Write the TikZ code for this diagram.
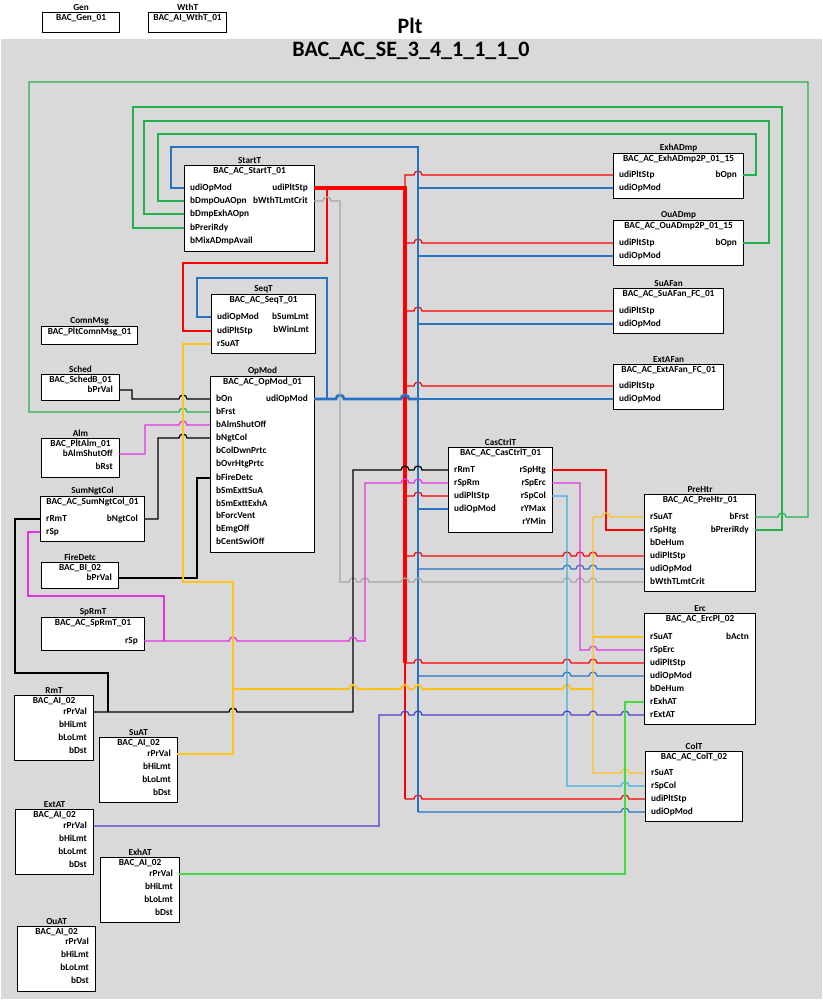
\documentclass[tikz,border=0pt]{standalone}
\usepackage{fontspec}
\setmainfont{Carlito}
\usepackage{tikz}
\usetikzlibrary{positioning,calc}
\definecolor{bggray}{HTML}{D9D9D9}
\definecolor{wred}{HTML}{FF0000}
\definecolor{wblue}{HTML}{2673C4}
\definecolor{wgreen}{HTML}{23B04E}
\definecolor{wgray}{HTML}{A6A6A6}
\definecolor{wmag}{HTML}{E632E6}
\definecolor{wyel}{HTML}{FFC21A}
\definecolor{wcyan}{HTML}{3CB0E6}
\definecolor{wind}{HTML}{4B3CD2}
\definecolor{wlime}{HTML}{3EDC3E}
% function block: name, instance, type, x1, y1, x2, y2
\newcommand{\blk}[7]{%
  \node[fb, minimum width={(#6-#4)*1pt}, minimum height={(#7-#5)*1pt},
        label={[inst]above:#2}] (#1) at (#4,#5) {};
  \node[ttl, below=2pt of #1.north] (#1-ttl) {#3};}
\newcommand{\inp}[3]{\foreach \p/\y in {#3}{%
  \node[pt, anchor=mid west] (#1-\p-t) at ({#2+6},\y) {\p};
  \coordinate (#1-\p) at (#2,\y);}}
\newcommand{\outp}[3]{\foreach \p/\y in {#3}{%
  \node[pt, anchor=mid east] (#1-\p-t) at ({#2-6},\y) {\p};
  \coordinate (#1-\p) at (#2,\y);}}
% line jump over a vertical wire
\newcommand{\hop}[2]{-- ({#1-4},#2) arc[start angle=180, end angle=0, radius=4pt]}

\begin{document}
\begin{tikzpicture}[
  x=1pt, y=-1pt,
  fb/.style={draw=black, line width=1.1pt, fill=white, inner sep=0pt, anchor=north west},
  inst/.style={font=\bfseries\fontsize{9.2}{10}\selectfont, inner sep=1pt},
  ttl/.style={font=\bfseries\fontsize{9.3}{10}\selectfont, inner sep=0pt},
  pt/.style={font=\bfseries\fontsize{9.3}{10}\selectfont, inner sep=0pt},
  head/.style={font=\bfseries\fontsize{22}{24}\selectfont, inner sep=0pt},
  wire/.style={line width=1.2pt},
]
\useasboundingbox (0,0) rectangle (822,1001);
\fill[bggray] (1,39) rectangle (822,999);
\node[head] (plt) at (410,26) {Plt};
\node[head] (se) at (411,51) {BAC\_AC\_SE\_3\_4\_1\_1\_1\_0};

% blocks
\blk{gen}{Gen}{BAC\_Gen\_01}{42}{12}{119}{32}
\blk{wtht}{WthT}{BAC\_AI\_WthT\_01}{148}{12}{226}{32}
\blk{startt}{StartT}{BAC\_AC\_StartT\_01}{184}{165}{314}{251}
\inp{startt}{184}{udiOpMod/188, bDmpOuAOpn/201, bDmpExhAOpn/214, bPreriRdy/228, bMixADmpAvail/241}
\outp{startt}{314}{udiPltStp/188, bWthTLmtCrit/201}
\blk{seqt}{SeqT}{BAC\_AC\_SeqT\_01}{211}{294}{315}{353}
\inp{seqt}{211}{udiOpMod/317, udiPltStp/331, rSuAT/344}
\outp{seqt}{315}{bSumLmt/317, bWinLmt/330}
\blk{comnmsg}{ComnMsg}{BAC\_PltComnMsg\_01}{41}{326}{137}{344}
\blk{sched}{Sched}{BAC\_SchedB\_01}{41}{374}{119}{400}
\outp{sched}{119}{bPrVal/390}
\blk{opmod}{OpMod}{BAC\_AC\_OpMod\_01}{210}{376}{314}{552}
\inp{opmod}{210}{bOn/399, bFrst/412, bAlmShutOff/425, bNgtCol/438, bColDwnPrtc/451, bOvrHtgPrtc/464, bFireDetc/478, bSmExttSuA/491, bSmExttExhA/504, bForcVent/516, bEmgOff/529, bCentSwiOff/542}
\outp{opmod}{314}{udiOpMod/399}
\blk{alm}{Alm}{BAC\_PltAlm\_01}{41}{438}{119}{477}
\outp{alm}{119}{bAlmShutOff/454, bRst/467}
\blk{sumngtcol}{SumNgtCol}{BAC\_AC\_SumNgtCol\_01}{40}{496}{144}{541}
\inp{sumngtcol}{40}{rRmT/519, rSp/532}
\outp{sumngtcol}{144}{bNgtCol/519}
\blk{firedetc}{FireDetc}{BAC\_BI\_02}{41}{562}{118}{588}
\outp{firedetc}{118}{bPrVal/578}
\blk{sprmt}{SpRmT}{BAC\_AC\_SpRmT\_01}{41}{617}{144}{650}
\outp{sprmt}{144}{rSp/641}
\blk{rmt}{RmT}{BAC\_AI\_02}{14}{695}{93}{760}
\outp{rmt}{93}{rPrVal/712, bHiLmt/725, bLoLmt/738, bDst/751}
\blk{suat}{SuAT}{BAC\_AI\_02}{99}{737}{177}{802}
\outp{suat}{177}{rPrVal/754, bHiLmt/767, bLoLmt/780, bDst/793}
\blk{extat}{ExtAT}{BAC\_AI\_02}{15}{809}{93}{874}
\outp{extat}{93}{rPrVal/826, bHiLmt/839, bLoLmt/852, bDst/865}
\blk{exhat}{ExhAT}{BAC\_AI\_02}{100}{857}{179}{922}
\outp{exhat}{179}{rPrVal/874, bHiLmt/887, bLoLmt/900, bDst/913}
\blk{ouat}{OuAT}{BAC\_AI\_02}{17}{926}{95}{991}
\outp{ouat}{95}{rPrVal/942, bHiLmt/955, bLoLmt/968, bDst/981}
\blk{exhadmp}{ExhADmp}{BAC\_AC\_ExhADmp2P\_01\_15}{613}{153}{743}{198}
\inp{exhadmp}{613}{udiPltStp/175, udiOpMod/188}
\outp{exhadmp}{743}{bOpn/175}
\blk{ouadmp}{OuADmp}{BAC\_AC\_OuADmp2P\_01\_15}{613}{220}{743}{265}
\inp{ouadmp}{613}{udiPltStp/243, udiOpMod/256}
\outp{ouadmp}{743}{bOpn/243}
\blk{suafan}{SuAFan}{BAC\_AC\_SuAFan\_FC\_01}{613}{288}{723}{333}
\inp{suafan}{613}{udiPltStp/311, udiOpMod/324}
\blk{extafan}{ExtAFan}{BAC\_AC\_ExtAFan\_FC\_01}{613}{364}{723}{409}
\inp{extafan}{613}{udiPltStp/386, udiOpMod/399}
\blk{casctrlt}{CasCtrlT}{BAC\_AC\_CasCtrlT\_01}{448}{447}{552}{532}
\inp{casctrlt}{448}{rRmT/470, rSpRm/483, udiPltStp/496, udiOpMod/509}
\outp{casctrlt}{552}{rSpHtg/470, rSpErc/483, rSpCol/496, rYMax/509, rYMin/522}
\blk{prehtr}{PreHtr}{BAC\_AC\_PreHtr\_01}{644}{494}{755}{591}
\inp{prehtr}{644}{rSuAT/517, rSpHtg/530, bDeHum/543, udiPltStp/556, udiOpMod/569, bWthTLmtCrit/582}
\outp{prehtr}{755}{bFrst/517, bPreriRdy/530}
\blk{erc}{Erc}{BAC\_AC\_ErcPI\_02}{644}{613}{755}{724}
\inp{erc}{644}{rSuAT/637, rSpErc/650, udiPltStp/663, udiOpMod/676, bDeHum/689, rExhAT/702, rExtAT/715}
\outp{erc}{755}{bActn/637}
\blk{colt}{ColT}{BAC\_AC\_ColT\_02}{645}{751}{742}{821}
\inp{colt}{645}{rSuAT/773, rSpCol/786, udiPltStp/799, udiOpMod/812}

% green feedback loops
\draw[wire, wgreen] (prehtr-bFrst) \hop{782}{517} -- (808,517) -- (808,82) -- (29,82) -- (29,412) \hop{183}{412} -- (opmod-bFrst);
\draw[wire, wgreen] (prehtr-bPreriRdy) -- (782,530) -- (782,107) -- (133,107) -- (133,228) -- (startt-bPreriRdy);
\draw[wire, wgreen] (ouadmp-bOpn) -- (769,243) -- (769,121) -- (144,121) -- (144,214) -- (startt-bDmpExhAOpn);
\draw[wire, wgreen] (exhadmp-bOpn) -- (756,175) -- (756,134) -- (158,134) -- (158,201) -- (startt-bDmpOuAOpn);

% plant step (red)
\draw[wire, wred, line width=3.2pt] (startt-udiPltStp) -- (405,188) -- (405,663);
\draw[wire, wred] (405,663) -- (405,799);
\draw[wire, wred] (327,188) -- (327,263) -- (183,263) -- (183,331) -- (seqt-udiPltStp);
\draw[wire, wred] (405,188) -- (405,175) \hop{418}{175} -- (exhadmp-udiPltStp);
\draw[wire, wred] (405,243) \hop{418}{243} -- (ouadmp-udiPltStp);
\draw[wire, wred] (405,311) \hop{418}{311} -- (suafan-udiPltStp);
\draw[wire, wred] (405,386) \hop{418}{386} -- (extafan-udiPltStp);
\draw[wire, wred] (405,496) \hop{418}{496} -- (casctrlt-udiPltStp);
\draw[wire, wred] (405,556) \hop{418}{556} \hop{567}{556} \hop{580}{556} \hop{593}{556} -- (prehtr-udiPltStp);
\draw[wire, wred] (405,663) \hop{418}{663} \hop{567}{663} \hop{593}{663} -- (erc-udiPltStp);
\draw[wire, wred] (405,799) \hop{418}{799} \hop{625}{799} -- (colt-udiPltStp);
\draw[wire, wred] (casctrlt-rSpHtg) -| (606,530) -- (prehtr-rSpHtg);

% operating mode (blue)
\draw[wire, wblue, line width=2.8pt] (opmod-udiOpMod) \hop{340}{399} \hop{405}{399} -- (418,399);
\draw[wire, wblue] (418,399) -- (extafan-udiOpMod);
\draw[wire, wblue] (startt-udiOpMod) -- (171,188) -- (171,147) -- (418,147) -- (418,812);
\draw[wire, wblue] (327,399) -- (327,278) -- (197,278) -- (197,317) -- (seqt-udiOpMod);
\draw[wire, wblue] (418,188) -- (exhadmp-udiOpMod);
\draw[wire, wblue] (418,256) -- (ouadmp-udiOpMod);
\draw[wire, wblue] (418,324) -- (suafan-udiOpMod);
\draw[wire, wblue] (418,509) -- (casctrlt-udiOpMod);
\draw[wire, wblue] (418,569) \hop{567}{569} \hop{580}{569} \hop{593}{569} -- (prehtr-udiOpMod);
\draw[wire, wblue] (418,676) \hop{567}{676} \hop{593}{676} -- (erc-udiOpMod);
\draw[wire, wblue] (418,812) \hop{625}{812} -- (colt-udiOpMod);

% weather limit (gray)
\draw[wire, wgray] (startt-bWthTLmtCrit) \hop{327}{201} -- (340,201) -- (340,582) \hop{353}{582} \hop{365}{582} \hop{405}{582} \hop{418}{582} \hop{567}{582} \hop{580}{582} \hop{593}{582} -- (prehtr-bWthTLmtCrit);

% binary inputs to OpMod
\draw[wire] (sched-bPrVal) -- (132,390) -- (132,399) \hop{183}{399} -- (opmod-bOn);
\draw[wire, wmag] (alm-bAlmShutOff) -- (145,454) -- (145,425) \hop{183}{425} -- (opmod-bAlmShutOff);
\draw[wire] (sumngtcol-bNgtCol) -- (158,519) -- (158,438) \hop{183}{438} -- (opmod-bNgtCol);
\draw[wire] (firedetc-bPrVal) -- (197,578) -- (197,478) -- (opmod-bFireDetc);

% room temperature (black)
\draw[wire] (rmt-rPrVal) \hop{233}{712} -- (353,712) -- (353,470) \hop{405}{470} \hop{418}{470} -- (casctrlt-rRmT);
\draw[wire] (108,712) -- (108,673) -- (15,673) -- (15,519) -- (sumngtcol-rRmT);

% room setpoint (magenta)
\draw[wire, wmag] (sprmt-rSp) \hop{233}{641} \hop{353}{641} -- (365,641) -- (365,483) \hop{405}{483} \hop{418}{483} -- (casctrlt-rSpRm);
\draw[wire, wmag] (164,641) -- (164,596) -- (28,596) -- (28,532) -- (sumngtcol-rSp);
\draw[wire, wmag] (casctrlt-rSpErc) -- (580,483) -- (580,650) \hop{593}{650} -- (erc-rSpErc);

% supply air temperature (yellow)
\draw[wire, wyel] (seqt-rSuAT) -- (183,344) -- (183,582) -- (233,582) -- (233,689);
\draw[wire, wyel, line width=2.8pt] (suat-rPrVal) -- (233,754) -- (233,689);
\draw[wire, wyel, line width=2pt] (233,689) \hop{353}{689} \hop{405}{689} \hop{418}{689} \hop{567}{689} -- (593,689);
\draw[wire, wyel] (593,517) \hop{606}{517} -- (prehtr-rSuAT);
\draw[wire, wyel] (593,517) -- (593,773) \hop{625}{773} -- (colt-rSuAT);
\draw[wire, wyel] (593,637) -- (erc-rSuAT);

% cooler setpoint, air temperatures
\draw[wire, wcyan] (casctrlt-rSpCol) -- (567,496) -- (567,786) \hop{625}{786} -- (colt-rSpCol);
\draw[wire, wind] (extat-rPrVal) -- (379,826) -- (379,715) \hop{405}{715} \hop{418}{715} \hop{567}{715} \hop{593}{715} \hop{625}{715} -- (erc-rExtAT);
\draw[wire, wlime] (exhat-rPrVal) -- (625,874) -- (625,702) -- (erc-rExhAT);
\end{tikzpicture}
\end{document}
